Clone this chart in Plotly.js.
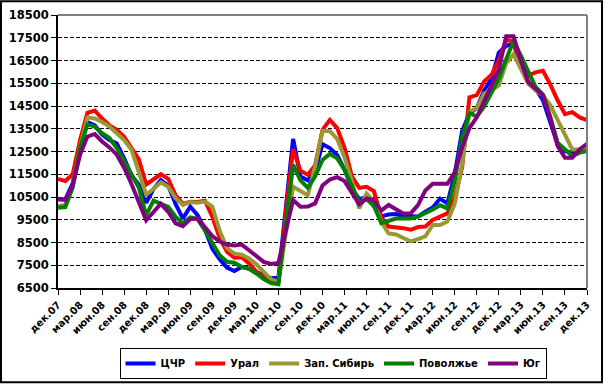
<!DOCTYPE html>
<html>
<head>
<meta charset="utf-8">
<script src="https://cdn.plot.ly/plotly-3.0.1.min.js"></script>
<style>
  html, body { margin: 0; padding: 0; background: #fff; }
  #chart { width: 604px; height: 391px; }
</style>
</head>
<body>
<div id="chart"></div>
<script>
const months = [
  "дек.07",
  "янв.08","фев.08","мар.08","апр.08","май.08","июн.08","июл.08","авг.08","сен.08","окт.08","ноя.08","дек.08",
  "янв.09","фев.09","мар.09","апр.09","май.09","июн.09","июл.09","авг.09","сен.09","окт.09","ноя.09","дек.09",
  "янв.10","фев.10","мар.10","апр.10","май.10","июн.10","июл.10","авг.10","сен.10","окт.10","ноя.10","дек.10",
  "янв.11","фев.11","мар.11","апр.11","май.11","июн.11","июл.11","авг.11","сен.11","окт.11","ноя.11","дек.11",
  "янв.12","фев.12","мар.12","апр.12","май.12","июн.12","июл.12","авг.12","сен.12","окт.12","ноя.12","дек.12",
  "янв.13","фев.13","мар.13","апр.13","май.13","июн.13","июл.13","авг.13","сен.13","окт.13","ноя.13","дек.13"
];

const tickLabels = ["дек.07","мар.08","июн.08","сен.08","дек.08","мар.09","июн.09","сен.09","дек.09",
  "мар.10","июн.10","сен.10","дек.10","мар.11","июн.11","сен.11","дек.11","мар.12","июн.12","сен.12",
  "дек.12","мар.13","июн.13","сен.13","дек.13"];

const seriesNames = ["ЦЧР", "Урал", "Зап. Сибирь", "Поволжье", "Юг"];

const cchr = [10400,10400,11100,12800,13800,13650,13250,13000,12850,12200,11450,11050,10250,
  10850,11250,11000,10200,9550,10080,9700,9070,8230,7760,7400,7250,
  7420,7350,7200,7040,6930,6950,10000,13050,11400,11230,11660,12820,
  12650,12350,11700,10900,10400,10500,10100,9650,9730,9750,9660,9640,
  9640,9850,10040,10430,10210,11510,13390,14180,14400,15190,15700,16850,
  17140,17250,16270,15550,15260,14760,13820,12810,12520,12450,12600,12740];

const ural = [11300,11200,11500,13000,14200,14300,13950,13650,13450,13150,12650,12150,11050,
  11300,11500,11300,10570,10200,10290,10280,10340,9640,8700,8100,7830,
  7850,7580,7220,6970,6800,6750,9800,12600,11650,11480,11900,13450,
  13890,13530,12660,11400,10900,10950,10760,9600,9200,9170,9130,9060,
  9180,9200,9490,9640,9780,10500,11800,14880,14980,15580,15870,16500,
  17400,17350,16400,15840,15980,16050,15450,14750,14140,14230,14000,13880];

const zapSib = [10100,10150,11000,12700,14000,13950,13800,13600,13300,13000,12580,11640,10600,
  10850,11150,10950,10450,10150,10280,10250,10300,10080,9020,8260,8010,
  7960,7800,7540,7180,6880,6780,8800,10950,10760,10580,11850,13400,
  13400,13050,12240,11200,10000,10650,10300,9400,8900,8850,8700,8550,
  8650,8770,9270,9270,9420,10210,11940,14250,14400,15050,15200,15400,
  16380,16780,16130,15480,15190,14970,14540,13890,13240,12590,12590,12670];

const povolzhye = [10030,10060,10920,12650,13690,13590,13300,13090,12650,12080,11430,10920,9700,
  10340,10200,10070,9630,9340,9600,9530,9030,8450,7940,7650,7610,
  7430,7340,7140,6890,6720,6670,9300,11920,11230,10900,11410,12130,
  12390,12200,11700,10980,10250,10400,10110,9350,9460,9550,9560,9560,
  9640,9780,9950,10140,10000,11220,13100,14180,14040,14470,15050,15700,
  16560,17360,16710,15980,15340,15000,14040,12880,12590,12300,12450,12520];

const yug = [10400,10370,11000,12360,13160,13270,12940,12680,12360,11790,11070,10270,9480,
  9840,10200,9850,9340,9220,9530,9560,9200,8780,8540,8410,8370,
  8410,8160,7900,7650,7560,7600,9000,10370,10070,10080,10220,11010,
  11270,11370,11200,10720,10180,10440,10360,9900,10150,9960,9780,9780,
  10140,10790,11080,11080,11080,11580,12670,13530,14000,14700,15400,16100,
  17570,17570,16490,15550,15260,14980,13960,12740,12230,12230,12590,12840];

const yTicks = [6500,7500,8500,9500,10500,11500,12500,13500,14500,15500,16500,17500,18500];

const colors = ["#0000FF", "#FF0000", "#999933", "#008000", "#800080"];
const allSeries = [cchr, ural, zapSib, povolzhye, yug];

const traces = allSeries.map((vals, k) => ({
  type: "scatter",
  mode: "lines",
  name: seriesNames[k],
  x: months,
  y: vals,
  line: { color: colors[k], width: 4, shape: "linear" }
}));

const fontFam = "DejaVu Sans, Verdana, sans-serif";

// plot area in pixels: x 58..587, y 15..293
const L = 58, R = 587, T = 15, B = 293, W = 604, H = 391;
const pw = R - L, ph = B - T;
const px = v => (v - L) / pw;
const py = v => (B - v) / ph;

const layout = {
  width: W, height: H,
  margin: { l: L, r: W - R, t: T, b: H - B, pad: 0 },
  paper_bgcolor: "#ffffff",
  plot_bgcolor: "#ffffff",
  showlegend: true,
  legend: {
    orientation: "h",
    x: px(333), xanchor: "center",
    y: py(354), yanchor: "top",
    bordercolor: "#000000", borderwidth: 1,
    bgcolor: "#ffffff",
    font: { family: fontFam, size: 10, color: "#000000", weight: "bold" },
    itemwidth: 30,
    tracegroupgap: 0
  },
  xaxis: {
    type: "category",
    range: [0, 72],
    tickmode: "array",
    tickvals: tickLabels,
    ticktext: tickLabels,
    tickangle: -45,
    ticks: "outside", ticklen: 5, tickwidth: 1, tickcolor: "#000000",
    showline: true, linecolor: "#000000", linewidth: 2,
    showgrid: false, zeroline: false,
    tickfont: { family: fontFam, size: 10, color: "#000000", weight: "bold" },
    fixedrange: true
  },
  yaxis: {
    range: [6500, 18500],
    tickmode: "array",
    tickvals: yTicks,
    ticktext: yTicks.map(String),
    ticks: "outside", ticklen: 5, tickwidth: 1, tickcolor: "#000000",
    showline: true, linecolor: "#000000", linewidth: 2,
    showgrid: true, gridcolor: "#000000", gridwidth: 1, griddash: "4px,2px",
    zeroline: false,
    tickfont: { family: fontFam, size: 11.5, color: "#000000", weight: "bold" },
    fixedrange: true
  },
  shapes: [
    { type: "line", xref: "paper", yref: "paper", x0: 0, x1: 1, y0: 1, y1: 1,
      line: { color: "#808080", width: 2 }, layer: "above" },
    { type: "line", xref: "paper", yref: "paper", x0: 1, x1: 1, y0: 0, y1: 1,
      line: { color: "#808080", width: 2 }, layer: "above" },
    { type: "rect", xref: "paper", yref: "paper",
      x0: px(1), x1: px(602), y0: py(389), y1: py(1),
      line: { color: "#000000", width: 2 }, fillcolor: "rgba(0,0,0,0)", layer: "above" }
  ]
};

Plotly.newPlot("chart", traces, layout, { displayModeBar: false, staticPlot: true });
</script>
</body>
</html>
